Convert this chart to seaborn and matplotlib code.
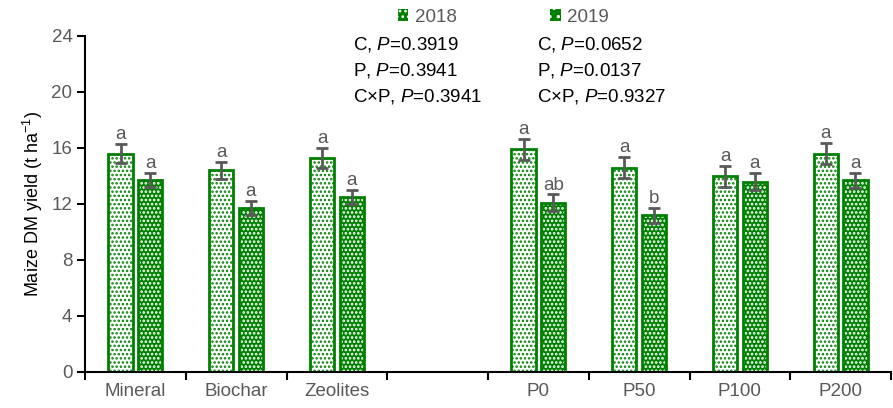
import numpy as np
import pandas as pd
import matplotlib
matplotlib.use("Agg")
import matplotlib.pyplot as plt
from matplotlib.patches import Rectangle, Patch
import seaborn as sns

# Treatment groups (blank slot separates the two factor groups)
slots = ["Mineral", "Biochar", "Zeolites", " ", "P0", "P50", "P100", "P200"]
categories = ["Mineral", "Biochar", "Zeolites", "P0", "P50", "P100", "P200"]
years = ["2018", "2019"]

yield_2018 = [15.6, 14.4, 15.3, 15.9, 14.6, 14.0, 15.6]
yield_2019 = [13.7, 11.7, 12.5, 12.1, 11.2, 13.6, 13.7]
se_2018 = [0.7, 0.6, 0.7, 0.75, 0.75, 0.75, 0.75]
se_2019 = [0.5, 0.5, 0.5, 0.6, 0.55, 0.6, 0.55]
letters_2018 = ["a", "a", "a", "a", "a", "a", "a"]
letters_2019 = ["a", "a", "a", "ab", "b", "a", "a"]

pvals_2018 = ["C, $\\it{P}$=0.3919", "P, $\\it{P}$=0.3941", "C×P, $\\it{P}$=0.3941"]
pvals_2019 = ["C, $\\it{P}$=0.0652", "P, $\\it{P}$=0.0137", "C×P, $\\it{P}$=0.9327"]

GREEN = "#008000"
GRAY = "#595959"

sns.set_style("white")
plt.rcParams["font.family"] = ["Liberation Sans", "DejaVu Sans"]
plt.rcParams["mathtext.fontset"] = "custom"
plt.rcParams["mathtext.rm"] = "Liberation Sans"
plt.rcParams["mathtext.it"] = "Liberation Sans:italic"
plt.rcParams["hatch.linewidth"] = 1.2

df = pd.DataFrame({
    "treatment": categories * 2,
    "year": [years[0]] * len(categories) + [years[1]] * len(categories),
    "yield": yield_2018 + yield_2019,
})

fig = plt.figure(figsize=(8.93, 4.08), dpi=100)
ax = fig.add_axes([85 / 893, 36 / 408, (891 - 85) / 893, (372 - 36) / 408])

sns.barplot(data=df, x="treatment", y="yield", hue="year", order=slots,
            hue_order=years, palette=["white", GREEN], width=0.59, gap=0.19,
            errorbar=None, legend=False, ax=ax)

se = {years[0]: se_2018, years[1]: se_2019}
vals = {years[0]: yield_2018, years[1]: yield_2019}
lets = {years[0]: letters_2018, years[1]: letters_2019}


def hatch_width(patch, w):
    if hasattr(patch, "set_hatch_linewidth"):
        patch.set_hatch_linewidth(w)


for yr, cont in zip(years, ax.containers):
    for bar in cont:
        h = bar.get_height()
        if not np.isfinite(h) or h == 0:
            continue
        xc = bar.get_x() + bar.get_width() / 2
        slot = slots[int(round(xc))]
        i = categories.index(slot)
        if yr == "2018":
            bar.set_facecolor("white")
            bar.set_edgecolor(GREEN)
            bar.set_hatch("....")
            bar.set_linewidth(2.0)
            hatch_width(bar, 1.2)
        else:
            bar.set_facecolor(GREEN)
            bar.set_edgecolor("white")
            bar.set_hatch("....")
            bar.set_linewidth(0)
            hatch_width(bar, 1.3)
            ax.add_patch(Rectangle((bar.get_x(), 0), bar.get_width(), h,
                                   fill=False, edgecolor=GREEN, lw=2.0,
                                   zorder=bar.get_zorder() + 0.1))
        ax.errorbar(xc, vals[yr][i], yerr=se[yr][i], fmt="none", ecolor=GRAY,
                    elinewidth=2, capsize=4, capthick=2, zorder=5)
        ax.text(xc, vals[yr][i] + se[yr][i] + 0.05, lets[yr][i], ha="center",
                va="bottom", fontsize=13.5, color=GRAY)

ax.set_xlim(-0.5, len(slots) - 0.5)
ax.set_ylim(0, 24)
ax.set_yticks(np.arange(0, 25, 4))
ax.set_xticks(range(len(slots)))
ax.set_xticklabels(slots)
ax.set_xticks(np.arange(-0.5, len(slots), 1.0), minor=True)
ax.tick_params(axis="x", which="major", length=0, pad=8, labelsize=13.5,
               labelcolor=GRAY)
ax.tick_params(axis="x", which="minor", length=6, width=1.5, color="black",
               direction="out", bottom=True)
ax.tick_params(axis="y", length=6, width=1.5, color="black", direction="out",
               left=True, labelsize=13.5, labelcolor=GRAY, pad=3)
ax.set_xlabel("")
ax.set_ylabel("Maize DM yield (t ha$^{-1}$)", fontsize=13, color="black",
              labelpad=5)
for side in ["top", "right"]:
    ax.spines[side].set_visible(False)
for side in ["left", "bottom"]:
    ax.spines[side].set_color("black")
    ax.spines[side].set_linewidth(1.5)

handles = [
    Patch(facecolor=GREEN, edgecolor="white", hatch="...", lw=0),
    Patch(facecolor=GREEN, edgecolor="white", hatch="..", lw=0),
]
leg = fig.legend(handles, years, loc="center left", ncol=2,
                 bbox_to_anchor=(381 / 893, 1 - 17 / 408), frameon=False,
                 handlelength=0.55, handleheight=0.55, handletextpad=0.35,
                 columnspacing=5.0, fontsize=13.5)
for t in leg.get_texts():
    t.set_color(GRAY)

for k, (a, b) in enumerate(zip(pvals_2018, pvals_2019)):
    y = 1 - (45 + 25.5 * k) / 408
    fig.text(353 / 893, y, a, ha="left", va="center", fontsize=13.5,
             color="black")
    fig.text(537 / 893, y, b, ha="left", va="center", fontsize=13.5,
             color="black")

fig.savefig("out.png", dpi=100)
